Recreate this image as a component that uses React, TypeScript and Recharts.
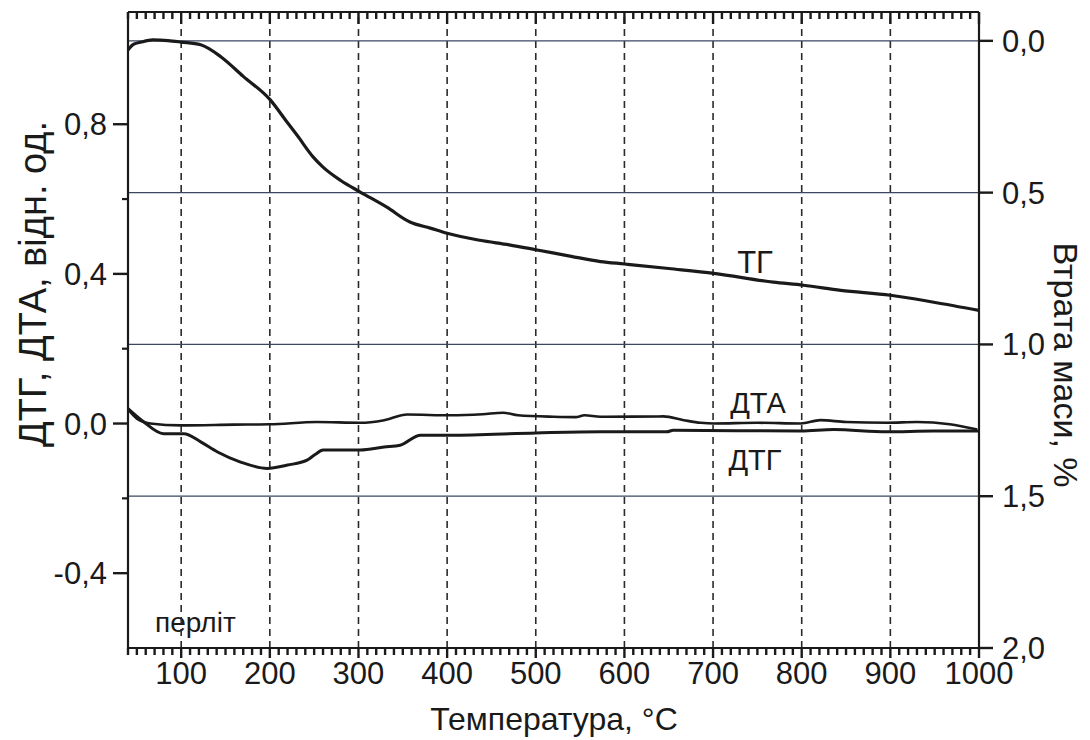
import React from 'react';
import { LineChart, Line, XAxis, YAxis, ReferenceLine } from 'recharts';

// ---- data ----
const tgTemp = [40, 46, 55, 68, 85, 100, 122, 145, 170, 200, 220, 231, 249, 260, 280, 302, 332, 358, 381, 400, 437, 470, 500, 540, 573, 600, 650, 701, 768, 802, 844, 900, 949, 1000];
const tgLoss = [0.030, 0.012, 0.004, -0.003, -0.001, 0.004, 0.013, 0.053, 0.117, 0.193, 0.27, 0.312, 0.383, 0.416, 0.46, 0.498, 0.548, 0.597, 0.617, 0.634, 0.657, 0.672, 0.688, 0.710, 0.727, 0.735, 0.750, 0.766, 0.795, 0.805, 0.822, 0.838, 0.861, 0.888];

const dtaTemp = [40, 50, 65, 100, 160, 200, 253, 302, 329, 355, 404, 440, 463, 480, 520, 545, 555, 573, 644, 667, 686, 701, 750, 799, 821, 850, 896, 930, 967, 998];
const dtaValue = [0.038, 0.013, 0.0, -0.005, -0.003, -0.002, 0.004, 0.002, 0.009, 0.024, 0.022, 0.025, 0.029, 0.022, 0.018, 0.017, 0.022, 0.018, 0.019, 0.009, 0.002, 0.0, 0.002, 0.0, 0.009, 0.004, 0.002, 0.004, -0.002, -0.016];

const dtgTemp = [40, 58, 80, 103, 122, 141, 167, 197, 220, 242, 251, 260, 302, 329, 347, 370, 404, 500, 573, 648, 655, 799, 836, 896, 948, 1000];
const dtgValue = [0.040, 0.004, -0.027, -0.027, -0.049, -0.076, -0.103, -0.120, -0.111, -0.098, -0.083, -0.071, -0.071, -0.063, -0.058, -0.031, -0.031, -0.025, -0.022, -0.022, -0.018, -0.020, -0.016, -0.022, -0.020, -0.020];

const xMajorTicks = [100, 200, 300, 400, 500, 600, 700, 800, 900, 1000];
const xAllTicks: number[] = [];
for (let t = 40; t <= 1000; t += 10) xAllTicks.push(t);
const xGridLines = [100, 200, 300, 400, 500, 600, 700, 800, 900];
const leftMajorTicks = [-0.4, 0, 0.4, 0.8];
const leftMinorTicks = [-0.2, 0.2, 0.6];
const rightTicks = [0, 0.5, 1.0, 1.5, 2.0];
const rightGridLines = [0, 0.5, 1.0, 1.5];

const X_DOMAIN: [number, number] = [40, 1000];
const L_DOMAIN: [number, number] = [-0.6, 1.1];
const R_DOMAIN: [number, number] = [-0.095, 2.0];

const tgData = tgTemp.map((t, i) => ({ t, v: tgLoss[i] }));
const dtaData = dtaTemp.map((t, i) => ({ t, v: dtaValue[i] }));
const dtgData = dtgTemp.map((t, i) => ({ t, v: dtgValue[i] }));

// chart geometry
const W = 1090;
const H = 740;
const MARGIN = { top: 12, right: 51, bottom: 52, left: 68 };
const Y_AXIS_W = 60;
const X_AXIS_H = 40;
const PLOT_W = W - MARGIN.left - MARGIN.right - 2 * Y_AXIS_W;
const PLOT_H = H - MARGIN.top - MARGIN.bottom - X_AXIS_H;
const xPerPx = (X_DOMAIN[1] - X_DOMAIN[0]) / PLOT_W;
const yPerPx = (L_DOMAIN[1] - L_DOMAIN[0]) / PLOT_H;

const INK = '#1a1a1a';
const FONT = "'Liberation Sans', Arial, sans-serif";
const fmt = (v: number) => v.toFixed(1).replace('.', ',');
const tickFont = { fill: INK, fontSize: 31, fontFamily: FONT };

export default function App() {
  const tickMarks: React.ReactNode[] = [];
  xAllTicks.forEach((t) => {
    const major = t % 100 === 0;
    // bottom, outward
    tickMarks.push(
      <ReferenceLine
        key={'bt' + t}
        xAxisId="x"
        yAxisId="left"
        ifOverflow="visible"
        segment={[{ x: t, y: L_DOMAIN[0] }, { x: t, y: L_DOMAIN[0] - (major ? 10 : 7) * yPerPx }]}
        stroke={INK}
        strokeWidth={2.4}
      />
    );
    // top, inward
    tickMarks.push(
      <ReferenceLine
        key={'tt' + t}
        xAxisId="x"
        yAxisId="left"
        ifOverflow="visible"
        segment={[{ x: t, y: L_DOMAIN[1] }, { x: t, y: L_DOMAIN[1] - (major ? 12 : 7) * yPerPx }]}
        stroke={INK}
        strokeWidth={2.4}
      />
    );
  });
  leftMinorTicks.forEach((v) => {
    tickMarks.push(
      <ReferenceLine
        key={'lm' + v}
        xAxisId="x"
        yAxisId="left"
        ifOverflow="visible"
        segment={[{ x: X_DOMAIN[0], y: v }, { x: X_DOMAIN[0] - 6 * xPerPx, y: v }]}
        stroke={INK}
        strokeWidth={2.2}
      />
    );
  });

  return (
    <div style={{ position: 'absolute', left: 0, top: 0, width: W, height: H, background: '#fff' }}>
      <LineChart width={W} height={H} margin={MARGIN}>
        <XAxis
          xAxisId="x"
          type="number"
          dataKey="t"
          domain={X_DOMAIN}
          ticks={xMajorTicks}
          interval={0}
          allowDataOverflow
          height={X_AXIS_H}
          tickSize={9}
          tickMargin={5}
          tickLine={false}
          tick={tickFont}
          axisLine={{ stroke: INK, strokeWidth: 2.2 }}
        />
        <YAxis
          yAxisId="left"
          type="number"
          domain={L_DOMAIN}
          ticks={leftMajorTicks}
          interval={0}
          allowDataOverflow
          width={Y_AXIS_W}
          tickSize={15}
          tickMargin={6}
          tickLine={{ stroke: INK, strokeWidth: 2.4 }}
          tick={tickFont}
          tickFormatter={fmt}
          axisLine={{ stroke: INK, strokeWidth: 2.2 }}
        />
        <YAxis
          yAxisId="right"
          orientation="right"
          type="number"
          reversed
          domain={R_DOMAIN}
          ticks={rightTicks}
          interval={0}
          allowDataOverflow
          width={Y_AXIS_W}
          tickSize={14}
          tickMargin={9}
          tickLine={{ stroke: INK, strokeWidth: 2.4 }}
          tick={tickFont}
          tickFormatter={fmt}
          axisLine={{ stroke: INK, strokeWidth: 2.2 }}
        />
        {xGridLines.map((v) => (
          <ReferenceLine key={'gx' + v} xAxisId="x" yAxisId="left" x={v} stroke="#2a2a2a" strokeWidth={1.6} strokeDasharray="7 5" />
        ))}
        {rightGridLines.map((v) => (
          <ReferenceLine key={'gy' + v} xAxisId="x" yAxisId="right" y={v} stroke="#3b4660" strokeWidth={1.2} />
        ))}
        <ReferenceLine xAxisId="x" yAxisId="left" y={L_DOMAIN[1]} ifOverflow="visible" stroke={INK} strokeWidth={2.2} />
        {tickMarks}
        <Line xAxisId="x" yAxisId="left" data={dtaData} dataKey="v" type="monotone" dot={false} stroke={INK} strokeWidth={2.6} isAnimationActive={false} />
        <Line xAxisId="x" yAxisId="left" data={dtgData} dataKey="v" type="monotone" dot={false} stroke={INK} strokeWidth={3} isAnimationActive={false} />
        <Line xAxisId="x" yAxisId="right" data={tgData} dataKey="v" type="monotone" dot={false} stroke={INK} strokeWidth={3.2} isAnimationActive={false} />
        <text x={755} y={273} textAnchor="middle" fontSize={31} fill={INK} fontFamily={FONT}>ТГ</text>
        <text x={758} y={413} textAnchor="middle" fontSize={29} fill={INK} fontFamily={FONT}>ДТА</text>
        <text x={755} y={470} textAnchor="middle" fontSize={29} fill={INK} fontFamily={FONT}>ДТГ</text>
        <text x={155} y={632} textAnchor="start" fontSize={28} fill={INK} fontFamily={FONT}>перліт</text>
        <text x={554} y={730} textAnchor="middle" fontSize={32} fill={INK} fontFamily={FONT}>Температура, °C</text>
        <text x={32} y={284} textAnchor="middle" dy="0.36em" fontSize={38} fill={INK} fontFamily={FONT} transform="rotate(-90 32 284)">ДТГ, ДТА, відн. од.</text>
        <text x={1066} y={365} textAnchor="middle" dy="0.36em" fontSize={34} fill={INK} fontFamily={FONT} transform="rotate(90 1066 365)">Втрата маси, %</text>
      </LineChart>
    </div>
  );
}
